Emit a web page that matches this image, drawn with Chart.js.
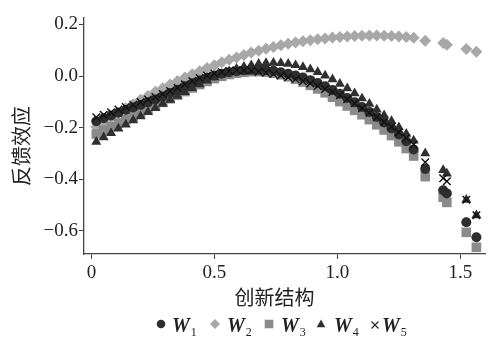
<!DOCTYPE html>
<html><head><meta charset="utf-8">
<script src="https://cdn.jsdelivr.net/npm/chart.js@4/dist/chart.umd.min.js"></script>
<style>
html,body{margin:0;padding:0;background:#fff;}
#wrap{position:relative;width:492px;height:344px;}
#legend{position:absolute;left:0;top:0;width:492px;height:344px;pointer-events:none;font-family:"Liberation Serif",serif;color:#222;}
.lw{position:absolute;top:315px;font-size:20px;font-weight:bold;font-style:italic;line-height:20px;white-space:nowrap;}
.ls{font-size:12px;font-weight:normal;font-style:normal;position:relative;top:4px;margin-left:1px;}
svg{position:absolute;left:0;top:0;}
</style></head><body>
<div id="wrap"><canvas id="c" width="492" height="344"></canvas><div id="legend"></div></div>
<script>
// ---- data ----
const xValues = [0.02,0.05,0.08,0.11,0.14,0.17,0.20,0.23,0.26,0.29,0.32,0.35,0.38,0.41,0.44,0.47,0.50,0.53,0.56,0.59,0.62,0.65,0.68,0.71,0.74,0.77,0.80,0.83,0.86,0.89,0.92,0.95,0.98,1.01,1.04,1.07,1.10,1.13,1.16,1.19,1.22,1.25,1.28,1.31,1.357,1.43,1.445,1.524,1.565];
const w1 = [-0.175,-0.164,-0.153,-0.142,-0.132,-0.122,-0.112,-0.102,-0.091,-0.079,-0.066,-0.053,-0.040,-0.028,-0.017,-0.007,0.002,0.009,0.015,0.019,0.022,0.024,0.024,0.023,0.020,0.015,0.009,0.002,-0.006,-0.016,-0.027,-0.040,-0.054,-0.069,-0.085,-0.102,-0.120,-0.139,-0.159,-0.180,-0.203,-0.227,-0.253,-0.285,-0.360,-0.443,-0.455,-0.567,-0.625];
const w2 = [-0.197,-0.179,-0.160,-0.143,-0.125,-0.109,-0.092,-0.077,-0.061,-0.047,-0.033,-0.019,-0.006,0.007,0.019,0.031,0.042,0.053,0.063,0.072,0.082,0.091,0.098,0.106,0.113,0.119,0.125,0.130,0.135,0.139,0.143,0.146,0.149,0.151,0.153,0.155,0.156,0.157,0.157,0.156,0.155,0.153,0.151,0.148,0.137,0.128,0.121,0.105,0.094];
const w3 = [-0.225,-0.210,-0.196,-0.182,-0.169,-0.156,-0.143,-0.130,-0.116,-0.102,-0.088,-0.074,-0.060,-0.046,-0.033,-0.021,-0.010,-0.001,0.006,0.011,0.015,0.017,0.017,0.015,0.011,0.005,-0.003,-0.012,-0.023,-0.036,-0.050,-0.065,-0.082,-0.099,-0.116,-0.133,-0.150,-0.169,-0.189,-0.209,-0.231,-0.255,-0.281,-0.310,-0.390,-0.470,-0.490,-0.606,-0.664];
const w4 = [-0.255,-0.238,-0.221,-0.204,-0.188,-0.172,-0.156,-0.140,-0.124,-0.108,-0.092,-0.077,-0.062,-0.047,-0.032,-0.018,-0.005,0.007,0.018,0.028,0.036,0.042,0.047,0.050,0.051,0.050,0.047,0.042,0.035,0.026,0.015,0.002,-0.013,-0.030,-0.048,-0.067,-0.087,-0.108,-0.130,-0.152,-0.175,-0.199,-0.224,-0.250,-0.300,-0.365,-0.378,-0.480,-0.540];
const w5 = [-0.160,-0.150,-0.140,-0.130,-0.120,-0.111,-0.101,-0.091,-0.081,-0.070,-0.058,-0.045,-0.032,-0.019,-0.008,0.002,0.010,0.016,0.020,0.022,0.022,0.020,0.017,0.013,0.008,0.002,-0.005,-0.012,-0.020,-0.029,-0.039,-0.050,-0.062,-0.075,-0.090,-0.106,-0.125,-0.142,-0.160,-0.178,-0.197,-0.218,-0.240,-0.265,-0.334,-0.396,-0.408,-0.480,-0.540];
const seriesNames = ['W1','W2','W3','W4','W5'];
const xTicks = [0, 0.5, 1.0, 1.5];
const xTickLabels = ['0', '0.5', '1.0', '1.5'];
const yTicks = [0.2, 0.0, -0.2, -0.4, -0.6];
const yTickLabels = ['0.2', '0.0', '\u22120.2', '\u22120.4', '\u22120.6'];
const xTitle = '创新结构';
const yTitle = '反馈效应';

// ---- styles ----
const seriesValues = [w1, w2, w3, w4, w5];
const styles = [
  {pointStyle:'circle',   pointRadius:5,   backgroundColor:'#2e2e2e', borderColor:'#2e2e2e', borderWidth:0, order:1},
  {pointStyle:'rectRot',  pointRadius:6,   backgroundColor:'#a8a8a8', borderColor:'#a8a8a8', borderWidth:0, order:4},
  {pointStyle:'rect',     pointRadius:6.8, backgroundColor:'#8a8a8a', borderColor:'#8a8a8a', borderWidth:0, order:3},
  {pointStyle:'triangle', pointRadius:5.8, backgroundColor:'#303030', borderColor:'#303030', borderWidth:0, order:2},
  {pointStyle:'crossRot', pointRadius:5.3, backgroundColor:'#111',    borderColor:'#111',    borderWidth:1.4, order:0}
];
const datasets = seriesNames.map((name, i) => Object.assign({
  label: name,
  data: xValues.map((x, k) => ({x: x, y: seriesValues[i][k]})),
  showLine: false,
  pointHoverRadius: styles[i].pointRadius
}, styles[i]));

function pick(arr, labels, v) {
  let best = 0;
  arr.forEach((t, i) => { if (Math.abs(t - v) < Math.abs(arr[best] - v)) best = i; });
  return labels[best];
}

const serif = "'Liberation Serif', serif";
const cjk = "'Noto Sans CJK SC', sans-serif";
const axisColor = '#444';

new Chart(document.getElementById('c'), {
  type: 'scatter',
  data: {datasets},
  options: {
    responsive: false,
    animation: false,
    devicePixelRatio: 1,
    layout: {padding: {left: 0, top: 18, right: 7, bottom: 34}},
    plugins: {legend: {display: false}, tooltip: {enabled: false}},
    scales: {
      x: {
        type: 'linear', min: -0.03, max: 1.60,
        afterBuildTicks: s => { s.ticks = xTicks.map(v => ({value: v})); },
        afterFit: s => { s.height = 56; },
        ticks: {callback: v => pick(xTicks, xTickLabels, v), font: {family: serif, size: 19}, color: '#222', padding: 3, maxRotation: 0},
        grid: {display: true, drawOnChartArea: false, drawTicks: true, tickLength: 5, color: axisColor, lineWidth: 1},
        border: {display: true, color: axisColor, width: 1.3},
        title: {display: true, text: xTitle + '\u3000', font: {family: cjk, size: 20}, color: '#222', padding: {top: 0, bottom: 1}}
      },
      y: {
        type: 'linear', min: -0.69, max: 0.225,
        afterBuildTicks: s => { s.ticks = yTicks.map(v => ({value: v})); },
        afterFit: s => { s.width = 84; },
        ticks: {callback: v => pick(yTicks, yTickLabels, v), font: {family: serif, size: 19}, color: '#222', padding: 1},
        grid: {display: true, drawOnChartArea: false, drawTicks: true, tickLength: 5, color: axisColor, lineWidth: 1},
        border: {display: true, color: axisColor, width: 1.3},
        title: {display: true, text: yTitle + '\u3000', font: {family: cjk, size: 20}, color: '#222', padding: {top: 9, bottom: 0}}
      }
    }
  }
});

// ---- legend (HTML text with subscripts, SVG markers) ----
const legend = document.getElementById('legend');
const markerX = [161, 215, 269, 321, 375];
const textX = [172, 227, 281, 334, 382];
const my = 324;
const svgNS = 'http://www.w3.org/2000/svg';
const svg = document.createElementNS(svgNS, 'svg');
svg.setAttribute('width', 492); svg.setAttribute('height', 344);
function el(tag, attrs) { const e = document.createElementNS(svgNS, tag); for (const k in attrs) e.setAttribute(k, attrs[k]); svg.appendChild(e); }
el('circle', {cx: markerX[0], cy: my, r: 4.3, fill: styles[0].backgroundColor});
el('polygon', {points: `${markerX[1]},${my-5} ${markerX[1]+5},${my} ${markerX[1]},${my+5} ${markerX[1]-5},${my}`, fill: styles[1].backgroundColor});
el('rect', {x: markerX[2]-4.3, y: my-4.3, width: 8.6, height: 8.6, fill: styles[2].backgroundColor});
el('polygon', {points: `${markerX[3]},${my-4.5} ${markerX[3]+4.3},${my+3.3} ${markerX[3]-4.3},${my+3.3}`, fill: styles[3].backgroundColor});
el('path', {d: `M${markerX[4]-3.5},${my-2.5} L${markerX[4]+3.5},${my+4.5} M${markerX[4]+3.5},${my-2.5} L${markerX[4]-3.5},${my+4.5}`, stroke: '#222', 'stroke-width': 1.1, fill: 'none'});
legend.appendChild(svg);
seriesNames.forEach((name, i) => {
  const s = document.createElement('span');
  s.className = 'lw';
  s.style.left = textX[i] + 'px';
  s.textContent = name.charAt(0);
  const sub = document.createElement('span');
  sub.className = 'ls';
  sub.textContent = name.slice(1);
  s.appendChild(sub);
  legend.appendChild(s);
});
</script>
</body></html>
